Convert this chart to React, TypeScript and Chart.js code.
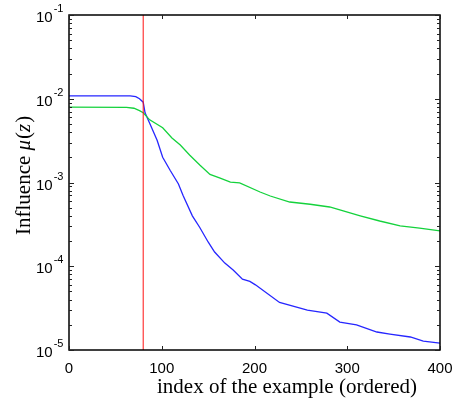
import { useEffect, useRef } from "react";
import { Chart, registerables } from "chart.js";

Chart.register(...registerables);

// Example index (ordered) and influence values
const blueIdx = [0, 66, 72, 76, 80, 82, 87, 95, 101, 109, 118, 123, 133, 141, 150, 157, 168, 177, 187, 195, 201, 227, 257, 278, 292, 310, 332, 346, 368, 382, 400];
const blueVal = [1.08e-2, 1.08e-2, 1.06e-2, 1.0e-2, 9.1e-3, 6.8e-3, 5.1e-3, 3.2e-3, 2.0e-3, 1.4e-3, 9.6e-4, 7.0e-4, 4.0e-4, 2.9e-4, 1.95e-4, 1.48e-4, 1.09e-4, 9.0e-5, 7.0e-5, 6.6e-5, 6.0e-5, 3.7e-5, 3.0e-5, 2.75e-5, 2.15e-5, 2.0e-5, 1.64e-5, 1.55e-5, 1.43e-5, 1.28e-5, 1.21e-5];

const greenIdx = [0, 62, 70, 76, 80, 87, 101, 111, 120, 130, 141, 152, 163, 174, 184, 206, 217, 238, 260, 281, 292, 314, 335, 357, 378, 400];
const greenVal = [7.96e-3, 7.9e-3, 7.7e-3, 7.2e-3, 6.8e-3, 5.6e-3, 4.5e-3, 3.4e-3, 2.8e-3, 2.13e-3, 1.62e-3, 1.25e-3, 1.13e-3, 1.01e-3, 9.9e-4, 7.7e-4, 6.9e-4, 5.85e-4, 5.5e-4, 5.1e-4, 4.7e-4, 4.0e-4, 3.47e-4, 3.03e-4, 2.86e-4, 2.64e-4];

const cutoffIdx = 80;

const xTicks = [0, 100, 200, 300, 400];
const yTickExps = [-1, -2, -3, -4, -5];

const xTitle = "index of the example (ordered)";

const SANS = '"Liberation Sans", Arial, sans-serif';
const SERIF = '"Liberation Serif", "Times New Roman", serif';

const axesPlugin = {
  id: "matlabAxes",
  afterDraw(chart: any) {
    const { ctx, chartArea } = chart;
    const xs = chart.scales.x;
    const ys = chart.scales.y;
    const { left, right, top, bottom } = chartArea;
    ctx.save();

    // box
    ctx.strokeStyle = "#000";
    ctx.lineWidth = 1.5;
    ctx.strokeRect(left, top, right - left, bottom - top);

    // x ticks (inward, top and bottom)
    ctx.lineWidth = 1;
    ctx.strokeStyle = "#222";
    for (const t of xTicks) {
      const px = Math.round(xs.getPixelForValue(t)) + 0.5;
      ctx.beginPath();
      ctx.moveTo(px, bottom);
      ctx.lineTo(px, bottom - 4);
      ctx.moveTo(px, top);
      ctx.lineTo(px, top + 4);
      ctx.stroke();
    }

    // y ticks, major and minor (inward, left and right)
    for (let e = -5; e <= -1; e++) {
      for (let m = 1; m <= 9; m++) {
        const v = m * Math.pow(10, e);
        if (v > 0.1 + 1e-12) continue;
        const py = Math.round(ys.getPixelForValue(v)) + 0.5;
        const len = m === 1 ? 5 : 3;
        ctx.beginPath();
        ctx.moveTo(left, py);
        ctx.lineTo(left + len, py);
        ctx.moveTo(right, py);
        ctx.lineTo(right - len, py);
        ctx.stroke();
      }
    }

    // x tick labels
    ctx.fillStyle = "#000";
    ctx.font = `15px ${SANS}`;
    ctx.textAlign = "center";
    ctx.textBaseline = "alphabetic";
    for (const t of xTicks) {
      ctx.fillText(String(t), xs.getPixelForValue(t), bottom + 23);
    }

    // y tick labels: 10 with superscript exponent
    for (const e of yTickExps) {
      const py = ys.getPixelForValue(Math.pow(10, e));
      ctx.font = `15px ${SANS}`;
      ctx.textAlign = "left";
      const w = ctx.measureText("10").width;
      ctx.fillText("10", 36, py + 7);
      ctx.font = `11px ${SANS}`;
      ctx.fillText("-" + String(-e), 36 + w + 1, py - 3);
    }

    // x axis title
    ctx.font = `21px ${SERIF}`;
    ctx.textAlign = "center";
    ctx.fillText(xTitle, 287, 393);

    // y axis title, rotated: Influence μ(z)
    ctx.translate(30, 235);
    ctx.rotate(-Math.PI / 2);
    ctx.textAlign = "left";
    const parts: [string, boolean][] = [
      ["Influence ", false],
      ["\u03bc", true],
      ["(", false],
      ["z", true],
      [")", false],
    ];
    let x = 0;
    for (const [s, it] of parts) {
      ctx.font = `${it ? "italic " : ""}21px ${SERIF}`;
      ctx.fillText(s, x, 0);
      x += ctx.measureText(s).width + (it ? 1 : 0);
    }
    ctx.restore();
  },
};

export default function App() {
  const canvasRef = useRef<HTMLCanvasElement | null>(null);

  useEffect(() => {
    const canvas = canvasRef.current;
    if (!canvas) return;
    const toPts = (xs: number[], ys: number[]) => xs.map((x, i) => ({ x, y: ys[i] }));
    const chart = new Chart(canvas, {
      type: "line",
      data: {
        datasets: [
          {
            data: [
              { x: cutoffIdx, y: 1e-5 },
              { x: cutoffIdx, y: 1e-1 },
            ],
            borderColor: "#ff1010",
            borderWidth: 1,
            pointRadius: 0,
          },
          {
            data: toPts(greenIdx, greenVal),
            borderColor: "#14d23c",
            borderWidth: 1.3,
            pointRadius: 0,
          },
          {
            data: toPts(blueIdx, blueVal),
            borderColor: "#2626ff",
            borderWidth: 1.3,
            pointRadius: 0,
          },
        ],
      },
      options: {
        responsive: false,
        animation: false,
        devicePixelRatio: 1,
        layout: { padding: { left: 69, right: 15, top: 15, bottom: 53 } },
        plugins: {
          legend: { display: false },
          tooltip: { enabled: false },
          title: { display: false },
        },
        scales: {
          x: { type: "linear", min: 0, max: 400, display: false },
          y: { type: "logarithmic", min: 1e-5, max: 1e-1, display: false },
        },
      },
      plugins: [axesPlugin],
    });
    return () => chart.destroy();
  }, []);

  return (
    <div style={{ position: "fixed", left: 0, top: 0, width: 455, height: 403, background: "#fff" }}>
      <canvas ref={canvasRef} width={455} height={403} />
    </div>
  );
}
